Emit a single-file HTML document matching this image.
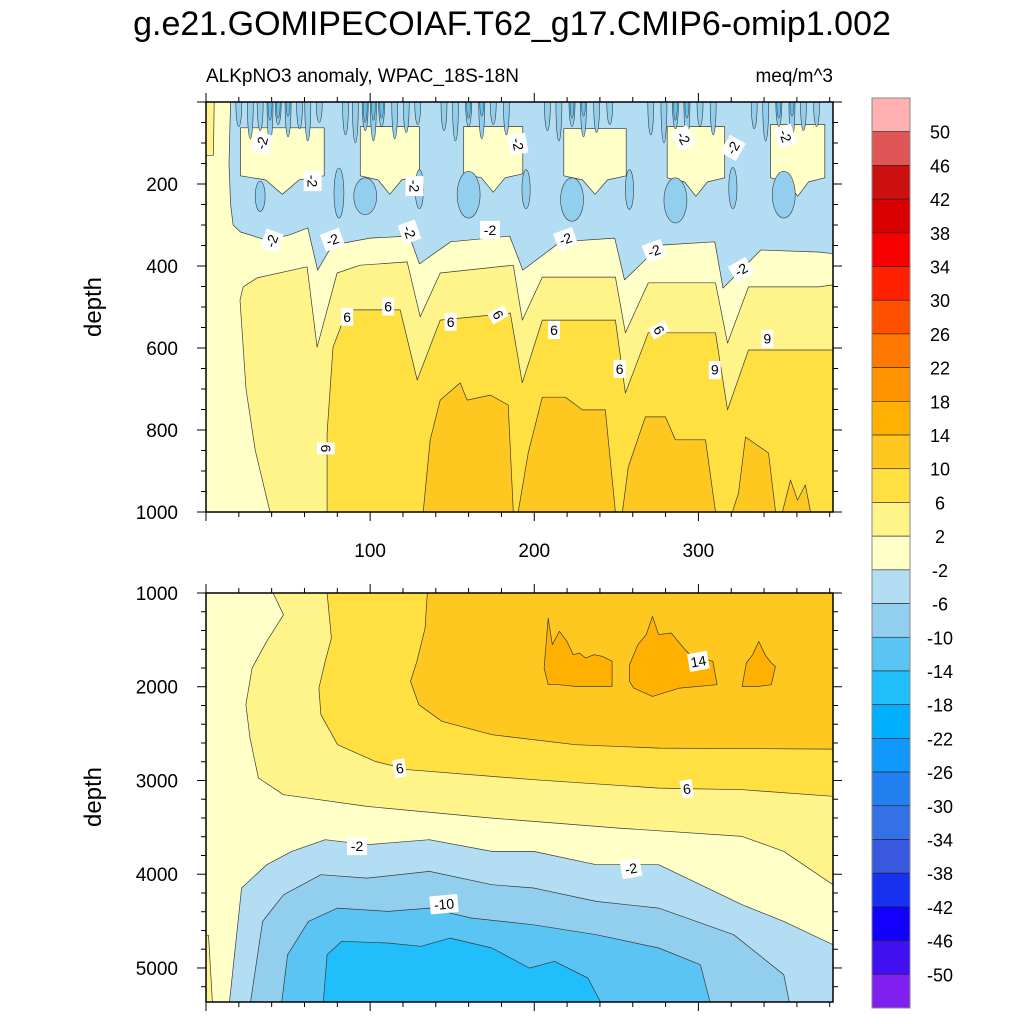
<!DOCTYPE html>
<html><head><meta charset="utf-8">
<style>
html,body{margin:0;padding:0;background:#fff;}
svg{display:block;font-family:"Liberation Sans",sans-serif;}
</style></head>
<body>
<svg id="chart" width="1024" height="1024" viewBox="0 0 1024 1024" xmlns="http://www.w3.org/2000/svg">
<text x="512" y="35" font-size="34" text-anchor="middle">g.e21.GOMIPECOIAF.T62_g17.CMIP6-omip1.002</text>
<text x="206" y="82" font-size="19">ALKpNO3 anomaly, WPAC_18S-18N</text>
<text x="833" y="82" font-size="19" text-anchor="end">meq/m^3</text>
<text transform="translate(101,307) rotate(-90)" font-size="24" text-anchor="middle">depth</text>
<text transform="translate(101,797) rotate(-90)" font-size="24" text-anchor="middle">depth</text>
<defs>
<clipPath id="clipTop"><rect x="206" y="102" width="627" height="410"/></clipPath>
<clipPath id="clipBot"><rect x="206" y="593" width="627" height="409"/></clipPath>
</defs>
<g id="topPanel" clip-path="url(#clipTop)"></g>
<g id="botPanel" clip-path="url(#clipBot)"></g>
<g id="axes"></g>
<g id="cbar"></g>
</svg>
<script>
// ---------- data ----------
const cbLevels = [50,46,42,38,34,30,26,22,18,14,10,6,2,-2,-6,-10,-14,-18,-22,-26,-30,-34,-38,-42,-46,-50];
const cbColors = ["#ffb0b0","#e05555","#cc1010","#d80000","#f80000","#ff2000","#ff5000","#ff7800","#ff9400","#ffb000","#ffc820","#ffe040","#fff48a","#ffffc8","#b2ddf2","#92cfee","#5ac5f5","#20bffc","#00b0ff","#1098fc","#2280f0","#3470e6","#3858e0","#1830f0","#1000fc","#4010f0","#8020f0"];
const xTicksMajor = [100,200,300];
const topDepthTicks = [200,400,600,800,1000];
const botDepthTicks = [1000,2000,3000,4000,5000];

// upper panel: blue (<= -2) region boundary
const topBlueX = [15,14,15,16.5,21,37,51,62,68,77,100,124,130,149,185,193,216,249,255,277,310,315,338,374,382];
const topBlueD = [0,150,250,300,317,337,324,307,410,349,332,327,395,341,327,410,341,332,434,349,341,454,361,366,370];
// light-yellow patches inside the surface blue layer
const patchX0 = [21,94,157,218,281,344];
const patchX1 = [72,130,193,256,316,377];
const patchTop = [63,60,60,65,60,55];
const patchBot = [200,200,195,200,205,205];
// darker (-10..-6) streaks near surface
const streakX = [20,27,33,39,44,50,57,62,69,85,91,97,102,107,115,122,129,145,152,160,168,175,183,208,215,223,230,238,246,271,279,286,293,301,309,334,341,349,357,364,372];
const streakD = [60,90,70,100,55,85,65,95,50,80,100,70,95,60,90,75,55,70,95,60,90,55,80,70,95,60,85,75,55,80,100,65,90,60,80,65,95,60,90,70,60];
const coreX = [39,44,50,97,102,107,160,168,223,230,286,293,349,357];
const coreD = [45,40,35,50,45,40,40,35,40,35,45,40,40,35];
// darker spots in the blue band
const spotX = [33,81,97,130,160,195,223,258,286,321,352];
const spotTop = [193,161,185,165,169,165,185,165,185,160,169];
const spotBot = [267,283,275,260,283,260,291,262,295,260,283];
const spotW = [3,3,7,2.5,7,2.5,7,2.5,7,2.5,7];
// >= 2 region
const topGe2X = [39,30,24.4,20.7,22.6,31.1,61.6,67.7,79.9,93.9,122.6,130.5,142.7,187.2,192.7,204.9,249.4,255.5,269.5,310.4,317.7,330.5,373.2,382,382];
const topGe2D = [1000,849,700,483,451,429,402,598,417,398,390,524,417,398,532,427,427,563,441,441,588,451,451,446,1000];
// >= 6 region
const topGe6X = [73.8,73.8,77.4,86,118.3,128.7,142.7,185.4,192.7,204.9,249.4,255.5,269.5,310.4,317.7,330.5,382,382];
const topGe6D = [1000,807,598,507,507,678,532,515,685,532,532,710,563,563,751,605,605,1000];
// >= 10 patches
const topGe10aX = [132.3,136.6,142.7,154.9,159.1,173.2,184.1,187.2];
const topGe10aD = [1000,824,727,685,727,715,739,1000];
const topGe10bX = [190.2,196.3,204.9,218.9,229.3,243.3,249.4];
const topGe10bD = [1000,856,720,720,751,751,1000];
const topGe10cX = [253.7,257.3,267.7,279.9,286,304.3,310.4];
const topGe10cD = [1000,890,768,768,824,824,1000];
const topGe10dX = [320.7,324.4,328.7,342.7,347,351.2,356.1,360.4,365.2,368.3];
const topGe10dD = [1000,954,817,856,1000,1000,922,971,934,1000];

// lower panel contour regions
const botGe2X = [40.8,47.2,37,28.1,24.3,26.8,31.9,47.2,98,174.2,250.4,326.6,352,382,382];
const botGe2D = [1000,1231,1516,1800,2192,2547,2974,3152,3276,3401,3507,3596,3756,4112,1000];
const botGe6X = [73.8,76.4,72.6,68.8,70,80.2,103.1,123.4,199.6,275.8,326.6,382,382];
const botGe6D = [1000,1480,1729,2014,2298,2618,2796,2885,2992,3081,3098,3169,1000];
const botGe10X = [134.8,133.5,128.5,124.6,129.7,143.7,174.2,225,275.8,382,382];
const botGe10D = [1000,1374,1729,1943,2192,2369,2512,2618,2654,2665,1000];
const botGe14aX = [258,263.1,268.2,272,275.8,283.4,291,294.9,308.8,311.4,288.5,272,260.6,258];
const botGe14aD = [1765,1552,1445,1249,1445,1427,1587,1658,1729,1978,2014,2103,2014,1943];
const botGe14bX = [206,208.5,211,215.3,219.9,223.7,227.5,231.3,236.4,241.5,247.4,247.4,225,214.8,208.5];
const botGe14bD = [1800,1267,1552,1409,1516,1658,1640,1694,1658,1676,1729,1996,1996,1978,1978];
const botGe14cX = [326.6,329.2,333,336.8,340.6,344.4,346.9,344.4,336.8];
const botGe14cD = [1996,1747,1658,1516,1658,1747,1783,1978,1996];
const botLe2X = [14.1,21.7,37,52.2,72.6,98,136.1,174.2,199.6,237.7,275.8,301.2,326.6,352,382,382];
const botLe2D = [5400,4147,3898,3756,3632,3685,3632,3756,3756,3898,3898,4112,4325,4503,4752,5400];
const botLe6X = [26.8,34.5,47.2,70,98,136.1,174.2,199.6,237.7,275.8,321.5,352,355.8];
const botLe6D = [5400,4503,4219,4005,4041,3970,4112,4147,4290,4361,4645,5072,5400];
const botLe10X = [45.9,49.7,62.4,80.2,110.7,136.1,161.5,199.6,237.7,275.8,301.2,307.6];
const botLe10D = [5400,4858,4503,4361,4396,4361,4467,4539,4645,4787,4965,5400];
const botLe14X = [71.3,73.8,82.7,110.7,131,148.8,174.2,197,212.3,232.6,241.5];
const botLe14D = [5400,4858,4716,4734,4769,4681,4787,5001,4929,5107,5400];

// contour labels
const topLabelX = [34,190,65,127,291,321,353,40,77,124,173,219,273,326,86,111,149,178,212,252,276,310,342,73];
const topLabelD = [100,103,193,205,88,112,83,339,336,317,312,334,363,409,524,499,536,519,556,651,556,654,578,845];
const topLabelT = ["-2","-2","-2","-2","-2","-2","-2","-2","-2","-2","-2","-2","-2","-2","6","6","6","6","6","6","6","6","6","6"];
const topLabelR = [-75,80,90,90,60,-60,70,-70,-20,70,0,-20,-20,-30,0,0,0,60,0,0,60,180,180,90];
const botLabelX = [300,118,293,92,259,145];
const botLabelD = [1730,2870,3090,3700,3940,4320];
const botLabelT = ["14","6","6","-2","-2","-10"];
const botLabelR = [-10,-10,-10,0,-10,-5];

// ---------- scales ----------
const X0=206, X1=833, XMAX=382;
const xs = v => X0 + v*(X1-X0)/XMAX;
const yt = d => 102 + d*0.41;
const yb = d => 593 + (d-1000)*409/4363;
const NS="http://www.w3.org/2000/svg";
function mk(tag, attrs, parent){const e=document.createElementNS(NS,tag);for(const k in attrs)e.setAttribute(k,attrs[k]);parent.appendChild(e);return e;}
const topG=document.getElementById('topPanel'), botG=document.getElementById('botPanel');
const axG=document.getElementById('axes'), cbG=document.getElementById('cbar');
const LINE="#3a3a3a";
function poly(g, xa, da, ys, fill, name, stroke){
  const pts = xa.map((x,i)=>xs(x).toFixed(1)+","+ys(da[i]).toFixed(1)).join(" ");
  const p = mk('polygon',{points:pts,fill:fill,stroke:stroke===false?'none':LINE,'stroke-width':0.7,'stroke-linejoin':'round'},g);
  
  
  return p;
}
// ---------- top panel ----------
let r=mk('rect',{x:206,y:102,width:627,height:410,fill:cbColors[13]},topG);


poly(topG,[0,5,4.5,0],[0,0,130,130],yt,cbColors[12],'left-strip-2-6');
poly(topG,topBlueX.concat([382]),topBlueD.concat([0]),yt,cbColors[14],'region-le-neg2');
for(let i=0;i<patchX0.length;i++){
  const a=patchX0[i],b=patchX1[i],t=patchTop[i],bt=patchBot[i],m=(a+b)/2;
  poly(topG,[a,b,b,m+(b-a)*0.2,m,m-(b-a)*0.2,a],[t,t,bt-20,bt-10,bt+25,bt-10,bt-20],yt,cbColors[13],'surface-patch-'+i);
}
for(let i=0;i<streakX.length;i++){
  const e=mk('ellipse',{cx:xs(streakX[i]),cy:yt(0),rx:3,ry:yt(streakD[i])-yt(0),fill:cbColors[15],stroke:LINE,'stroke-width':0.6},topG);
  
  
}
for(let i=0;i<coreX.length;i++){
  const e=mk('ellipse',{cx:xs(coreX[i]),cy:yt(0),rx:2,ry:yt(coreD[i])-yt(0),fill:cbColors[16],stroke:LINE,'stroke-width':0.5},topG);
  
  
}
for(let i=0;i<spotX.length;i++){
  const cy=(yt(spotTop[i])+yt(spotBot[i]))/2, ry=(yt(spotBot[i])-yt(spotTop[i]))/2;
  const e=mk('ellipse',{cx:xs(spotX[i]),cy:cy,rx:spotW[i]*1.64,ry:ry,fill:cbColors[15],stroke:LINE,'stroke-width':0.6},topG);
  
  
}
poly(topG,topGe2X,topGe2D,yt,cbColors[12],'region-ge-2');
poly(topG,topGe6X,topGe6D,yt,cbColors[11],'region-ge-6');
poly(topG,topGe10aX,topGe10aD,yt,cbColors[10],'region-ge-10-a');
poly(topG,topGe10bX,topGe10bD,yt,cbColors[10],'region-ge-10-b');
poly(topG,topGe10cX,topGe10cD,yt,cbColors[10],'region-ge-10-c');
poly(topG,topGe10dX,topGe10dD,yt,cbColors[10],'region-ge-10-d');
// ---------- bottom panel ----------
r=mk('rect',{x:206,y:593,width:627,height:409,fill:cbColors[13]},botG);


poly(botG,botGe2X,botGe2D,yb,cbColors[12],'region-ge-2');
poly(botG,[0,1.5,4,0],[4650,4650,5400,5400],yb,cbColors[12],'corner-ge-2');
poly(botG,botGe6X,botGe6D,yb,cbColors[11],'region-ge-6');
poly(botG,botGe10X,botGe10D,yb,cbColors[10],'region-ge-10');
poly(botG,botGe14aX,botGe14aD,yb,cbColors[9],'region-ge-14-a');
poly(botG,botGe14bX,botGe14bD,yb,cbColors[9],'region-ge-14-b');
poly(botG,botGe14cX,botGe14cD,yb,cbColors[9],'region-ge-14-c');
poly(botG,botLe2X,botLe2D,yb,cbColors[14],'region-le-neg2');
poly(botG,botLe6X,botLe6D,yb,cbColors[15],'region-le-neg6');
poly(botG,botLe10X,botLe10D,yb,cbColors[16],'region-le-neg10');
poly(botG,botLe14X,botLe14D,yb,cbColors[17],'region-le-neg14');
// ---------- labels ----------
function lab(g,x,y,t,rot,name){
  const gg=mk('g',{transform:`translate(${x.toFixed(1)},${y.toFixed(1)}) rotate(${rot})`},g);
  
  
  const w=t.length*8+4;
  mk('rect',{x:-w/2,y:-9,width:w,height:18,fill:'#fff'},gg);
  const tx=mk('text',{x:0,y:5,'font-size':14,'text-anchor':'middle'},gg);
  tx.textContent=t;
}
topLabelX.forEach((x,i)=>lab(topG,xs(x),yt(topLabelD[i]),topLabelT[i],topLabelR[i],'contour-label'));
botLabelX.forEach((x,i)=>lab(botG,xs(x),yb(botLabelD[i]),botLabelT[i],botLabelR[i],'contour-label'));
// ---------- axes ----------
function line(x1,y1,x2,y2,w){mk('line',{x1,y1,x2,y2,stroke:'#000','stroke-width':w||1},axG);}
function frame(y0,y1,ys,dmin,dmax,major,minor,ticks,name){
  const f=mk('rect',{x:206,y:y0,width:627,height:y1-y0,fill:'none',stroke:'#000','stroke-width':1.5},axG);
  
  
  for(let v=0; v<=XMAX; v+=20){
    const x=xs(v), L=(v%100===0)?9:5;
    line(x,y0,x,y0-L); line(x,y1,x,y1+L);
  }
  for(let d=Math.ceil(dmin/minor)*minor; d<=dmax; d+=minor){
    const y=ys(d), L=(d%major===0)?9:5;
    line(206,y,206-L,y); line(833,y,833+L,y);
  }
  ticks.forEach(d=>{
    const t=mk('text',{x:178,y:ys(d)+7,'font-size':19,'text-anchor':'end'},axG);
    
    
    t.textContent=d;
  });
}
frame(102,512,yt,0,1000,200,50,topDepthTicks,'upper-frame');
frame(593,1002,yb,1000,5363,1000,200,botDepthTicks,'lower-frame');
xTicksMajor.forEach(v=>{
  const t=mk('text',{x:xs(v),y:557,'font-size':19,'text-anchor':'middle'},axG);
  
  
  t.textContent=v;
});
// ---------- colorbar ----------
const cbTop=98, cbBot=1008, n=cbColors.length, bh=(cbBot-cbTop)/n;
cbColors.forEach((c,i)=>{
  const b=mk('rect',{x:872,y:cbTop+i*bh,width:38,height:bh,fill:c,stroke:'#222','stroke-width':0.6},cbG);
  
  
});
const ob=mk('rect',{x:872,y:cbTop,width:38,height:cbBot-cbTop,fill:'none',stroke:'#888','stroke-width':1},cbG);


cbLevels.forEach((v,i)=>{
  const t=mk('text',{x:940,y:cbTop+(i+1)*bh+7,'font-size':18,'text-anchor':'middle'},cbG);
  
  
  t.textContent=v;
});
</script>
</body></html>
